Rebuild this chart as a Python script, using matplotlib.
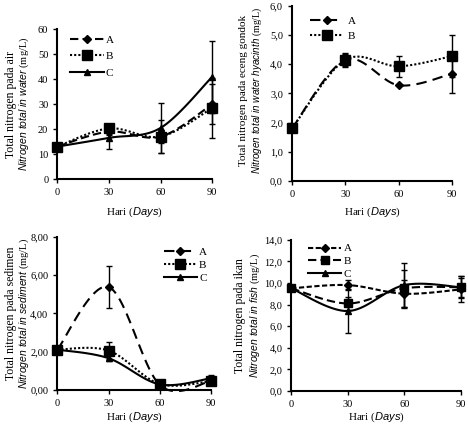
import numpy as np
import matplotlib
matplotlib.use("Agg")
import matplotlib.pyplot as plt
from matplotlib.ticker import FuncFormatter, MultipleLocator

plt.rcParams['font.family'] = ['Liberation Serif', 'DejaVu Serif']
plt.rcParams['mathtext.fontset'] = 'custom'
plt.rcParams['mathtext.it'] = 'Liberation Sans:italic'
plt.rcParams['mathtext.rm'] = 'Liberation Serif'

days = [0, 30, 60, 90]

# water
water_A = [13.0, 19.0, 17.0, 30.0]
water_B = [13.0, 20.3, 17.0, 28.5]
water_C = [13.0, 16.5, 20.5, 41.0]
water_A_err = [0.5, 1.5, 6.5, 8.0]
water_B_err = [0.5, 1.0, 2.5, 12.0]
water_C_err = [0.5, 4.5, 10.0, 14.5]

# water hyacinth
hyac_A = [1.80, 4.15, 3.28, 3.68]
hyac_B = [1.80, 4.15, 3.93, 4.28]
hyac_A_err = [0.0, 0.20, 0.0, 0.65]
hyac_B_err = [0.0, 0.25, 0.35, 0.73]

# sediment
sed_A = [2.10, 5.38, 0.25, 0.45]
sed_B = [2.10, 2.05, 0.30, 0.45]
sed_C = [2.10, 1.65, 0.28, 0.60]
sed_A_err = [0.0, 1.12, 0.05, 0.05]
sed_B_err = [0.0, 0.45, 0.05, 0.08]
sed_C_err = [0.0, 0.15, 0.05, 0.15]

# fish
fish_A = [9.5, 9.8, 9.0, 9.4]
fish_B = [9.5, 8.1, 9.5, 9.6]
fish_C = [9.5, 7.4, 9.8, 9.6]
fish_A_err = [0.2, 0.5, 1.3, 1.2]
fish_B_err = [0.2, 0.6, 1.7, 0.9]
fish_C_err = [0.2, 2.0, 2.0, 1.0]


def smooth(x, y, n=40):
    # bezier curve through points, like a spreadsheet "smoothed line"
    P = np.column_stack([np.asarray(x, float), np.asarray(y, float)])
    m = len(P)
    out = []
    t = np.linspace(0, 1, n)[:, None]
    for i in range(m - 1):
        p0 = P[max(i - 1, 0)]
        p1 = P[i]
        p2 = P[i + 1]
        p3 = P[min(i + 2, m - 1)]
        c1 = p1 + (p2 - p0) / 6
        c2 = p2 - (p3 - p1) / 6
        seg = ((1 - t) ** 3) * p1 + 3 * ((1 - t) ** 2) * t * c1 + 3 * (1 - t) * t ** 2 * c2 + t ** 3 * p2
        out.append(seg)
    out = np.vstack(out)
    return out[:, 0], out[:, 1]


def series(ax, y, err, marker, ms, ls, label):
    xs, ys = smooth(days, y)
    ax.plot(xs, ys, color='black', lw=1.5, linestyle=ls, clip_on=False)
    ax.errorbar(days, y, yerr=err, fmt='none', ecolor='black', elinewidth=1,
                capsize=2.5, capthick=1, clip_on=False)
    ax.plot(days, y, marker=marker, ms=ms, color='black', ls='none', clip_on=False)
    ax.plot([], [], color='black', lw=1.5, linestyle=ls, marker=marker, ms=ms, label=label)


def style(ax, ymax, step, fmt, line1, line2, ycenter=0.5, xpad=5, fs1=8.5, fs2=7.5):
    ax.set_xlim(0, 90)
    ax.set_ylim(0, ymax)
    ax.set_xticks(days)
    ax.yaxis.set_major_locator(MultipleLocator(step))
    ax.yaxis.set_major_formatter(FuncFormatter(lambda v, p: (fmt % v).replace('.', ',')))
    for s in ['top', 'right']:
        ax.spines[s].set_visible(False)
    for s in ['left', 'bottom']:
        ax.spines[s].set_linewidth(1.5)
    ax.tick_params(direction='out', length=3, width=1, labelsize=7.5)
    ax.set_xlabel(r"Hari ($\it{Days}$)", fontsize=8, labelpad=xpad)
    ax.text(-0.30, ycenter, line1, transform=ax.transAxes, rotation=90,
            ha='center', va='center', fontsize=fs1)
    ax.text(-0.215, ycenter, line2, transform=ax.transAxes, rotation=90,
            ha='center', va='center', fontsize=fs2)


fig = plt.figure(figsize=(4.68, 4.25), dpi=100)
ax1 = fig.add_axes([0.1225, 0.5788, 0.331, 0.352])
ax2 = fig.add_axes([0.6239, 0.5741, 0.3425, 0.412])
ax3 = fig.add_axes([0.1225, 0.0830, 0.3284, 0.3593])
ax4 = fig.add_axes([0.6224, 0.080, 0.3626, 0.356])

dash_a = (0, (4, 2))
dot_b = (0, (1, 1))
long_dash = (0, (5, 3))

# panel 1 - water
series(ax1, water_A, water_A_err, 'D', 4, dash_a, 'A')
series(ax1, water_B, water_B_err, 's', 7, dot_b, 'B')
series(ax1, water_C, water_C_err, '^', 5, '-', 'C')
style(ax1, 60, 10, '%d', 'Total nitrogen pada air',
      r"$\it{Nitrogen\ total\ in\ water}$ (mg/L)", xpad=6)
ax1.legend(loc='upper left', bbox_to_anchor=(0.02, 1.03), frameon=False,
           fontsize=8, handlelength=3, labelspacing=0.6, handletextpad=0.2)

# panel 2 - water hyacinth
series(ax2, hyac_A, hyac_A_err, 'D', 4, long_dash, 'A')
series(ax2, hyac_B, hyac_B_err, 's', 7, dot_b, 'B')
style(ax2, 6, 1, '%.1f', 'Total nitrogen pada eceng gondok',
      r"$\it{Nitrogen\ total\ in\ water\ hyacinth}$ (mg/L)", ycenter=0.52, xpad=5,
      fs1=8, fs2=7.1)
ax2.legend(loc='upper left', bbox_to_anchor=(0.05, 1.0), frameon=False,
           fontsize=8, handlelength=3, labelspacing=0.5, handletextpad=0.4)

# panel 3 - sediment
series(ax3, sed_A, sed_A_err, 'D', 4, long_dash, 'A')
series(ax3, sed_B, sed_B_err, 's', 7, dot_b, 'B')
series(ax3, sed_C, sed_C_err, '^', 5, '-', 'C')
style(ax3, 8, 2, '%.2f', 'Total nitrogen pada sedimen',
      r"$\it{Nitrogen\ total\ in\ sediment}$ (mg/L)", xpad=2)
ax3.legend(loc='upper right', bbox_to_anchor=(1.04, 1.0), frameon=False,
           fontsize=8, handlelength=3, labelspacing=0.3, handletextpad=0.2)

# panel 4 - fish
series(ax4, fish_A, fish_A_err, 'D', 4, (0, (2.5, 1.2)), 'A')
series(ax4, fish_B, fish_B_err, 's', 6, dash_a, 'B')
series(ax4, fish_C, fish_C_err, '^', 5, '-', 'C')
style(ax4, 14, 2, '%.1f', 'Total nitrogen pada ikan',
      r"$\it{Nitrogen\ total\ in\ fish}$ (mg/L)", xpad=1)
ax4.legend(loc='upper left', bbox_to_anchor=(0.04, 1.04), frameon=False,
           fontsize=8, handlelength=3, labelspacing=0.25, handletextpad=0.2)

fig.savefig('out.png', dpi=100)
